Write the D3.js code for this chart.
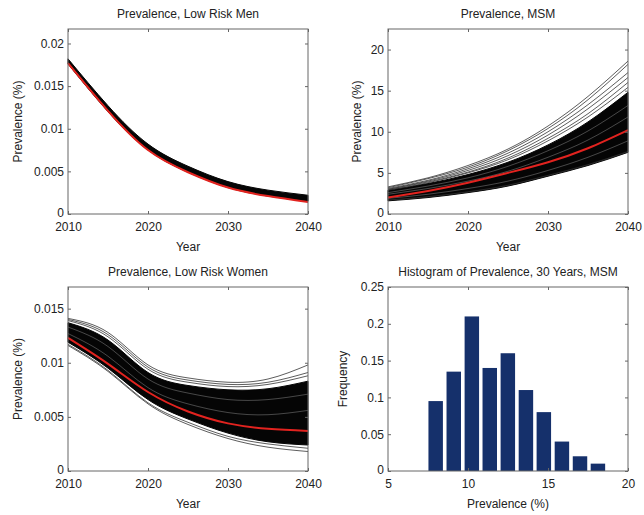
<!DOCTYPE html>
<meta charset="utf-8">
<style>
body { margin: 0; background: white; }
text { font-family: "Liberation Sans", Arial, sans-serif; font-size: 12px; fill: #222; }
</style>
<body>
<script src="https://cdnjs.cloudflare.com/ajax/libs/d3/7.8.5/d3.min.js"></script>
<script>
// data, one point every 5 years
var years = [2010, 2015, 2020, 2025, 2030, 2035, 2040]
var yearTicks = [2010, 2020, 2030, 2040]

var menMean = [0.0177, 0.0121, 0.0075, 0.0049, 0.0031, 0.0021, 0.0014]
var menLow = [0.0176, 0.0120, 0.0075, 0.0049, 0.0031, 0.0021, 0.0015]
var menHigh = [0.0182, 0.0127, 0.0082, 0.0056, 0.0038, 0.0028, 0.0022]
var menTicks = [0, 0.005, 0.01, 0.015, 0.02]
var menTickLabels = ['0', '0.005', '0.01', '0.015', '0.02']

var msmMean = [2.0, 2.8, 3.8, 5.0, 6.3, 8.0, 10.2]
var msmLow = [1.6, 2.0, 2.6, 3.4, 4.6, 5.9, 7.5]
var msmHigh = [2.9, 3.7, 4.8, 6.3, 8.4, 11.2, 14.8]
var msmRuns = [
    [3.3, 4.4, 5.9, 7.9, 10.7, 14.3, 18.6],
    [3.2, 4.3, 5.7, 7.7, 10.4, 13.9, 18.2],
    [3.1, 4.1, 5.5, 7.4, 10.0, 13.3, 17.2],
    [3.0, 4.0, 5.3, 7.1, 9.6, 12.8, 16.6],
    [3.0, 3.9, 5.1, 6.8, 9.2, 12.2, 16.0],
    [2.9, 3.8, 5.0, 6.6, 8.9, 11.8, 15.4],
    [1.7, 2.1, 2.7, 3.5, 4.7, 6.0, 7.6]
]
var msmStreaks = [
    [2.6, 3.4, 4.4, 5.8, 7.7, 10.1, 13.2],
    [2.4, 3.1, 4.0, 5.2, 6.9, 9.0, 11.8],
    [1.9, 2.4, 3.1, 4.0, 5.3, 6.9, 8.9]
]
var msmTicks = [0, 5, 10, 15, 20]

var womenMean = [0.0123, 0.0099, 0.0073, 0.0055, 0.0044, 0.0039, 0.0037]
var womenLow = [0.0119, 0.0095, 0.0066, 0.0048, 0.0035, 0.0027, 0.0024]
var womenHigh = [0.0137, 0.0121, 0.0091, 0.0079, 0.0075, 0.0076, 0.0083]
var womenRuns = [
    [0.0141, 0.0128, 0.0098, 0.0086, 0.0082, 0.0085, 0.0098],
    [0.0140, 0.0126, 0.0096, 0.0084, 0.0080, 0.0082, 0.0091],
    [0.0139, 0.0124, 0.0094, 0.0082, 0.0078, 0.0080, 0.0088],
    [0.0116, 0.0092, 0.0062, 0.0043, 0.0030, 0.0022, 0.0018],
    [0.0117, 0.0093, 0.0063, 0.0045, 0.0032, 0.0025, 0.0021]
]
var womenStreaks = [
    [0.0133, 0.0115, 0.0085, 0.0072, 0.0066, 0.0066, 0.0071],
    [0.0127, 0.0106, 0.0077, 0.0062, 0.0054, 0.0052, 0.0056]
]
var womenTicks = [0, 0.005, 0.01, 0.015]
var womenTickLabels = ['0', '0.005', '0.01', '0.015']

var histCenters = [7.98, 9.11, 10.24, 11.36, 12.49, 13.62, 14.74, 15.87, 17.0, 18.12]
var histFreq = [0.095, 0.135, 0.21, 0.14, 0.16, 0.11, 0.08, 0.04, 0.02, 0.01]
var histXTicks = [5, 10, 15, 20]
var histYTicks = [0, 0.05, 0.1, 0.15, 0.2, 0.25]
var histYLabels = ['0', '0.05', '0.1', '0.15', '0.2', '0.25']

var svg = d3.select('body').append('svg')
    .attr('width', 644)
    .attr('height', 515)

var frameColor = '#666'

function makePanel(box, xDomain, yDomain, title, xLabel, yLabel, yLabelX) {
    var x = d3.scaleLinear().domain(xDomain).range([box.x0, box.x1])
    var y = d3.scaleLinear().domain(yDomain).range([box.y1, box.y0])
    var g = svg.append('g')
    var marks = g.append('g')
    var cx = (box.x0 + box.x1) / 2

    g.append('text').attr('x', cx).attr('y', box.y0 - 11)
        .attr('text-anchor', 'middle').text(title)
    g.append('text').attr('x', cx).attr('y', box.y1 + 37)
        .attr('text-anchor', 'middle').text(xLabel)
    g.append('text')
        .attr('transform', 'translate(' + yLabelX + ',' + (box.y0 + box.y1) / 2 + ') rotate(-90)')
        .attr('text-anchor', 'middle').attr('dy', '0.35em').text(yLabel)

    return { g: g, marks: marks, x: x, y: y, box: box }
}

function finishPanel(p, xTicks, xLabels, yTicks, yLabels) {
    var b = p.box
    var fmtX = function (d, i) { return xLabels[i] }
    var fmtY = function (d, i) { return yLabels[i] }

    var ax = [
        p.g.append('g').attr('transform', 'translate(0,' + b.y1 + ')')
            .call(d3.axisBottom(p.x).tickValues(xTicks).tickFormat(fmtX).tickSize(-3).tickPadding(8)),
        p.g.append('g').attr('transform', 'translate(0,' + b.y0 + ')')
            .call(d3.axisTop(p.x).tickValues(xTicks).tickFormat('').tickSize(-3)),
        p.g.append('g').attr('transform', 'translate(' + b.x0 + ',0)')
            .call(d3.axisLeft(p.y).tickValues(yTicks).tickFormat(fmtY).tickSize(-3).tickPadding(4)),
        p.g.append('g').attr('transform', 'translate(' + b.x1 + ',0)')
            .call(d3.axisRight(p.y).tickValues(yTicks).tickFormat('').tickSize(-3))
    ]
    ax.forEach(function (a) {
        a.select('.domain').remove()
        a.selectAll('line').attr('stroke', frameColor)
        a.selectAll('text').attr('font-family', null).attr('font-size', null).attr('fill', null)
    })
    // the zero label sits a touch higher, as in the original
    ax[2].selectAll('text').filter(function (d) { return d === 0 }).attr('dy', '0.2em')

    p.g.append('rect')
        .attr('x', b.x0).attr('y', b.y0)
        .attr('width', b.x1 - b.x0).attr('height', b.y1 - b.y0)
        .attr('fill', 'none').attr('stroke', frameColor).attr('stroke-width', 1)
}

function drawBundle(p, low, high, runs, streaks, mean) {
    var pts = function (vals) { return vals.map(function (v, i) { return [years[i], v] }) }
    var line = d3.line()
        .x(function (d) { return p.x(d[0]) })
        .y(function (d) { return p.y(d[1]) })
        .curve(d3.curveNatural)
    var area = d3.area()
        .x(function (d) { return p.x(d[0]) })
        .y0(function (d) { return p.y(d[1]) })
        .y1(function (d) { return p.y(d[2]) })
        .curve(d3.curveNatural)

    p.marks.append('path')
        .datum(years.map(function (yr, i) { return [yr, low[i], high[i]] }))
        .attr('d', area)
        .attr('fill', '#050505')
        .attr('stroke', '#050505')
        .attr('stroke-width', 1)

    p.marks.selectAll('.run')
        .data(runs)
        .enter().append('path')
        .attr('class', 'run')
        .attr('d', function (d) { return line(pts(d)) })
        .attr('fill', 'none')
        .attr('stroke', '#333')
        .attr('stroke-width', 0.8)

    p.marks.selectAll('.streak')
        .data(streaks)
        .enter().append('path')
        .attr('class', 'streak')
        .attr('d', function (d) { return line(pts(d)) })
        .attr('fill', 'none')
        .attr('stroke', '#8a8a8a')
        .attr('stroke-width', 0.5)

    p.marks.append('path')
        .attr('d', line(pts(mean)))
        .attr('fill', 'none')
        .attr('stroke', '#e2231f')
        .attr('stroke-width', 2)
}

var left = { x0: 68, x1: 308 }
var right = { x0: 388, x1: 628 }
var topRow = { y0: 29, y1: 214 }
var botRow = { y0: 287, y1: 471 }
function box(c, r) { return { x0: c.x0, x1: c.x1, y0: r.y0, y1: r.y1 } }

var yearLabels = yearTicks.map(String)

// Low risk men
var p1 = makePanel(box(left, topRow), [2010, 2040], [0, 0.0217],
    'Prevalence, Low Risk Men', 'Year', 'Prevalence (%)', 18)
drawBundle(p1, menLow, menHigh, [], [], menMean)
finishPanel(p1, yearTicks, yearLabels, menTicks, menTickLabels)

// MSM
var p2 = makePanel(box(right, topRow), [2010, 2040], [0, 22.5],
    'Prevalence, MSM', 'Year', 'Prevalence (%)', 357)
drawBundle(p2, msmLow, msmHigh, msmRuns, msmStreaks, msmMean)
finishPanel(p2, yearTicks, yearLabels, msmTicks, msmTicks.map(String))

// Low risk women
var p3 = makePanel(box(left, botRow), [2010, 2040], [0, 0.017],
    'Prevalence, Low Risk Women', 'Year', 'Prevalence (%)', 18)
drawBundle(p3, womenLow, womenHigh, womenRuns, womenStreaks, womenMean)
finishPanel(p3, yearTicks, yearLabels, womenTicks, womenTickLabels)

// Histogram
var p4 = makePanel(box(right, botRow), [5, 20], [0, 0.25],
    'Histogram of Prevalence, 30 Years, MSM', 'Prevalence (%)', 'Frequency', 343)
var barW = 0.8 * (p4.x(histCenters[1]) - p4.x(histCenters[0]))
p4.marks.selectAll('rect')
    .data(histFreq)
    .enter().append('rect')
    .attr('x', function (d, i) { return p4.x(histCenters[i]) - barW / 2 })
    .attr('y', function (d) { return p4.y(d) })
    .attr('width', barW)
    .attr('height', function (d) { return p4.y(0) - p4.y(d) })
    .attr('fill', '#15306b')
finishPanel(p4, histXTicks, histXTicks.map(String), histYTicks, histYLabels)
</script>
</body>
